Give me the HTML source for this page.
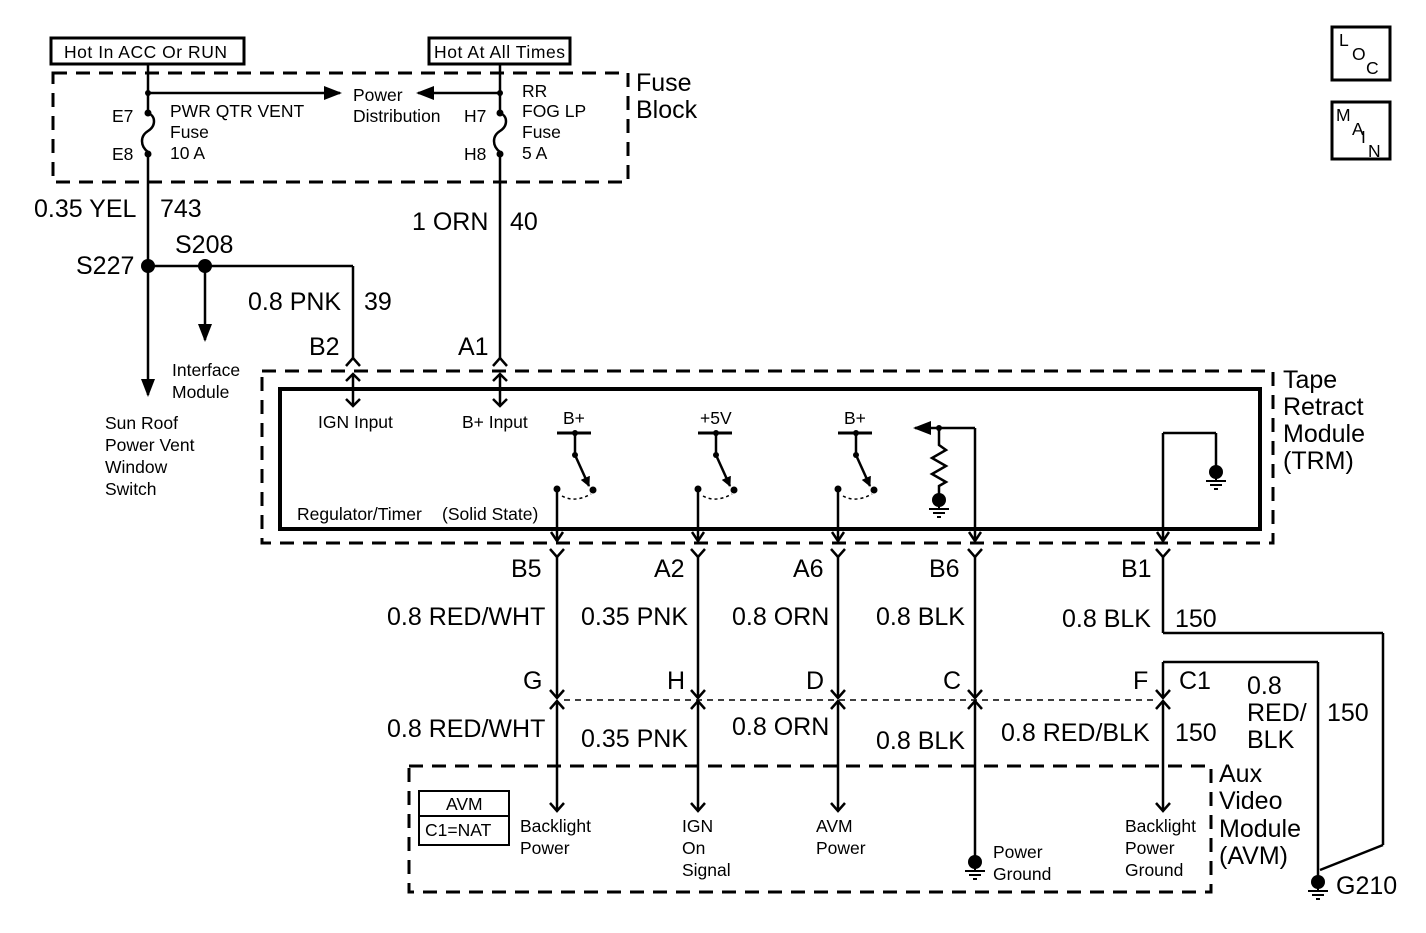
<!DOCTYPE html>
<html><head><meta charset="utf-8"><style>
html,body{margin:0;padding:0;background:#fff}
svg{display:block}
text{font-family:"Liberation Sans",Arial,sans-serif;fill:#000}
.s{font-size:17.5px}.m{font-size:25px}
</style></head><body>
<svg width="1426" height="933" viewBox="0 0 1426 933" xmlns="http://www.w3.org/2000/svg">
<defs>
<marker id="ah" markerWidth="10" markerHeight="10" refX="9" refY="5" orient="auto" markerUnits="userSpaceOnUse"><path d="M0,0 L10,5 L0,10 z" fill="#000"/></marker>
<marker id="ah2" markerWidth="18" markerHeight="14" refX="16" refY="7" orient="auto" markerUnits="userSpaceOnUse"><path d="M0,0 L18,7 L0,14 z" fill="#000"/></marker>
<g id="sw">
<line x1="0" y1="433" x2="34" y2="433" stroke="#000" stroke-width="3"/>
<circle cx="18" cy="433" r="3"/>
<line x1="18" y1="433" x2="18" y2="455" stroke="#000" stroke-width="2.5"/>
<circle cx="18" cy="455" r="3"/>
<line x1="18" y1="455" x2="32" y2="486" stroke="#000" stroke-width="2.5" marker-end="url(#ah)"/>
<circle cx="36" cy="490" r="3.5"/>
<circle cx="0" cy="489" r="3.5"/>
<path d="M5,496 Q18,503 34,494" fill="none" stroke="#000" stroke-width="1.5" stroke-dasharray="3,3"/>
<line x1="0" y1="489" x2="0" y2="540" stroke="#000" stroke-width="2.5"/>
<path d="M-6,532 L0,541 L6,532" fill="none" stroke="#000" stroke-width="2.5"/>
</g>
<g id="gnd">
<circle cx="0" cy="0" r="7"/>
<line x1="0" y1="0" x2="0" y2="9" stroke="#000" stroke-width="2"/>
<line x1="-10" y1="9" x2="10" y2="9" stroke="#000" stroke-width="2"/>
<line x1="-6" y1="13" x2="6" y2="13" stroke="#000" stroke-width="2"/>
<line x1="-2" y1="17" x2="2" y2="17" stroke="#000" stroke-width="2"/>
</g>
</defs>
<g stroke="#000" fill="none" stroke-width="2.5">
<rect x="51" y="38" width="193" height="26" stroke-width="3"/>
<rect x="429" y="38" width="141" height="26" stroke-width="3"/>
<rect x="1332" y="27" width="58" height="53" stroke-width="3"/>
<rect x="1332" y="102" width="58" height="57" stroke-width="3"/>
<rect x="53" y="73" width="575" height="109" stroke-width="3" stroke-dasharray="14,9"/>
<line x1="148" y1="64" x2="148" y2="113"/>
<path d="M148,113 C156,116 156,126 148,131 C140,136 140,146 148,152"/>
<line x1="148" y1="154" x2="148" y2="395" marker-end="url(#ah2)"/>
<line x1="148" y1="93" x2="340" y2="93" marker-end="url(#ah2)"/>
<line x1="500" y1="64" x2="500" y2="113"/>
<path d="M500,113 C508,116 508,126 500,131 C492,136 492,146 500,152"/>
<line x1="500" y1="154" x2="500" y2="358"/>
<line x1="500" y1="93" x2="418" y2="93" marker-end="url(#ah2)"/>
<line x1="148" y1="266" x2="353" y2="266"/>
<line x1="353" y1="266" x2="353" y2="358"/>
<line x1="205" y1="266" x2="205" y2="340" marker-end="url(#ah2)"/>
<path d="M346,366 L353,358 L360,366"/>
<path d="M493,366 L500,358 L507,366"/>
<line x1="353" y1="374" x2="353" y2="406"/>
<path d="M346,381 L353,374 L360,381 M346,399 L353,406 L360,399"/>
<line x1="500" y1="374" x2="500" y2="406"/>
<path d="M493,381 L500,374 L507,381 M493,399 L500,406 L507,399"/>
<rect x="262" y="371" width="1011" height="172" stroke-width="3" stroke-dasharray="14,9"/>
<rect x="280" y="389" width="980" height="140" stroke-width="4"/>
<line x1="975" y1="428" x2="975" y2="540"/>
<path d="M969,532 L975,541 L981,532"/>
<line x1="975" y1="428" x2="915" y2="428" marker-end="url(#ah2)"/>
<path d="M939,428 L939,445 L946,450 L932,458 L946,466 L932,474 L946,482 L939,486 L939,495"/>
<line x1="1163" y1="540" x2="1163" y2="433"/>
<line x1="1163" y1="433" x2="1216" y2="433"/>
<line x1="1216" y1="433" x2="1216" y2="468"/>
<path d="M1157,532 L1163,541 L1169,532"/>
<g>
<path d="M550,549 L557,557 L564,549 M691,549 L698,557 L705,549 M831,549 L838,557 L845,549 M968,549 L975,557 L982,549 M1156,549 L1163,557 L1170,549"/>
<line x1="557" y1="557" x2="557" y2="697"/>
<line x1="698" y1="557" x2="698" y2="697"/>
<line x1="838" y1="557" x2="838" y2="697"/>
<line x1="975" y1="557" x2="975" y2="697"/>
<line x1="1163" y1="557" x2="1163" y2="633"/>
<line x1="1163" y1="633" x2="1383" y2="633"/>
<line x1="1383" y1="633" x2="1383" y2="845"/>
<line x1="1383" y1="845" x2="1320" y2="870"/>
<line x1="1163" y1="662" x2="1318" y2="662"/>
<line x1="1318" y1="662" x2="1318" y2="878"/>
<line x1="1163" y1="662" x2="1163" y2="697"/>
<path d="M550,690 L557,698 L564,690 M691,690 L698,698 L705,690 M831,690 L838,698 L845,690 M968,690 L975,698 L982,690 M1156,690 L1163,698 L1170,690"/>
<path d="M550,709 L557,701 L564,709 M691,709 L698,701 L705,709 M831,709 L838,701 L845,709 M968,709 L975,701 L982,709 M1156,709 L1163,701 L1170,709"/>
<line x1="564" y1="700" x2="1156" y2="700" stroke-width="1.5" stroke-dasharray="6,5"/>
<line x1="557" y1="701" x2="557" y2="810"/>
<line x1="698" y1="701" x2="698" y2="810"/>
<line x1="838" y1="701" x2="838" y2="810"/>
<line x1="975" y1="701" x2="975" y2="860"/>
<line x1="1163" y1="701" x2="1163" y2="810"/>
<path d="M550,803 L557,811 L564,803 M691,803 L698,811 L705,803 M831,803 L838,811 L845,803 M1156,803 L1163,811 L1170,803"/>
</g>
<rect x="409" y="766" width="802" height="126" stroke-width="3" stroke-dasharray="14,9"/>
<rect x="419" y="791" width="90" height="54" stroke-width="2"/>
<line x1="419" y1="816" x2="509" y2="816" stroke-width="2"/>
</g>
<circle cx="148" cy="93" r="3"/><circle cx="500" cy="93" r="3"/>
<circle cx="148" cy="113" r="3.5"/><circle cx="148" cy="154" r="3.5"/>
<circle cx="500" cy="113" r="3.5"/><circle cx="500" cy="154" r="3.5"/>
<circle cx="148" cy="266" r="7"/><circle cx="205" cy="266" r="7"/>
<circle cx="939" cy="428" r="3"/>
<use href="#sw" x="557" y="0"/>
<use href="#sw" x="698" y="0"/>
<use href="#sw" x="838" y="0"/>
<use href="#gnd" x="939" y="500"/>
<use href="#gnd" x="1216" y="472"/>
<use href="#gnd" x="975" y="862"/>
<use href="#gnd" x="1318" y="882"/>
<text x="64" y="58" class="s" textLength="163">Hot In ACC Or RUN</text>
<text x="434" y="58" class="s" textLength="131">Hot At All Times</text>
<text x="1339" y="46" class="s">L</text><text x="1352" y="60" class="s">O</text><text x="1366" y="74" class="s">C</text>
<text x="1336" y="121" class="s">M</text><text x="1352" y="135" class="s">A</text><text x="1361" y="143" class="s">I</text><text x="1368" y="157" class="s">N</text>
<text x="636" y="91" class="m">Fuse</text><text x="636" y="118" class="m">Block</text>
<text x="353" y="101" class="s">Power</text><text x="353" y="122" class="s">Distribution</text>
<text x="170" y="117" class="s">PWR QTR VENT</text><text x="170" y="138" class="s">Fuse</text><text x="170" y="159" class="s">10 A</text>
<text x="112" y="122" class="s">E7</text><text x="112" y="160" class="s">E8</text>
<text x="464" y="122" class="s">H7</text><text x="464" y="160" class="s">H8</text>
<text x="522" y="97" class="s">RR</text><text x="522" y="117" class="s">FOG LP</text><text x="522" y="138" class="s">Fuse</text><text x="522" y="159" class="s">5 A</text>
<text x="34" y="217" class="m">0.35 YEL</text><text x="160" y="217" class="m">743</text>
<text x="412" y="230" class="m">1 ORN</text><text x="510" y="230" class="m">40</text>
<text x="76" y="274" class="m">S227</text><text x="175" y="253" class="m">S208</text>
<text x="248" y="310" class="m">0.8 PNK</text><text x="364" y="310" class="m">39</text>
<text x="309" y="355" class="m">B2</text><text x="458" y="355" class="m">A1</text>
<text x="172" y="376" class="s">Interface</text><text x="172" y="398" class="s">Module</text>
<text x="105" y="429" class="s">Sun Roof</text><text x="105" y="451" class="s">Power Vent</text><text x="105" y="473" class="s">Window</text><text x="105" y="495" class="s">Switch</text>
<text x="1283" y="388" class="m">Tape</text><text x="1283" y="415" class="m">Retract</text><text x="1283" y="442" class="m">Module</text><text x="1283" y="469" class="m">(TRM)</text>
<text x="318" y="428" class="s">IGN Input</text><text x="462" y="428" class="s">B+ Input</text>
<text x="563" y="424" class="s">B+</text><text x="700" y="424" class="s">+5V</text><text x="844" y="424" class="s">B+</text>
<text x="297" y="520" class="s">Regulator/Timer</text><text x="442" y="520" class="s">(Solid State)</text>
<text x="511" y="577" class="m">B5</text><text x="654" y="577" class="m">A2</text><text x="793" y="577" class="m">A6</text><text x="929" y="577" class="m">B6</text><text x="1121" y="577" class="m">B1</text>
<text x="387" y="625" class="m">0.8 RED/WHT</text><text x="581" y="625" class="m">0.35 PNK</text><text x="732" y="625" class="m">0.8 ORN</text><text x="876" y="625" class="m">0.8 BLK</text><text x="1062" y="627" class="m">0.8 BLK</text><text x="1175" y="627" class="m">150</text>
<text x="523" y="689" class="m">G</text><text x="667" y="689" class="m">H</text><text x="806" y="689" class="m">D</text><text x="943" y="689" class="m">C</text><text x="1133" y="689" class="m">F</text><text x="1179" y="689" class="m">C1</text>
<text x="1247" y="694" class="m">0.8</text><text x="1247" y="721" class="m">RED/</text><text x="1247" y="748" class="m">BLK</text><text x="1327" y="721" class="m">150</text>
<text x="387" y="737" class="m">0.8 RED/WHT</text><text x="581" y="747" class="m">0.35 PNK</text><text x="732" y="735" class="m">0.8 ORN</text><text x="876" y="749" class="m">0.8 BLK</text><text x="1001" y="741" class="m">0.8 RED/BLK</text><text x="1175" y="741" class="m">150</text>
<text x="1219" y="782" class="m">Aux</text><text x="1219" y="809" class="m">Video</text><text x="1219" y="837" class="m">Module</text><text x="1219" y="864" class="m">(AVM)</text>
<text x="446" y="810" class="s">AVM</text><text x="425" y="836" class="s">C1=NAT</text>
<text x="520" y="832" class="s">Backlight</text><text x="520" y="854" class="s">Power</text>
<text x="682" y="832" class="s">IGN</text><text x="682" y="854" class="s">On</text><text x="682" y="876" class="s">Signal</text>
<text x="816" y="832" class="s">AVM</text><text x="816" y="854" class="s">Power</text>
<text x="993" y="858" class="s">Power</text><text x="993" y="880" class="s">Ground</text>
<text x="1125" y="832" class="s">Backlight</text><text x="1125" y="854" class="s">Power</text><text x="1125" y="876" class="s">Ground</text>
<text x="1336" y="894" class="m">G210</text>
</svg>
</body></html>
